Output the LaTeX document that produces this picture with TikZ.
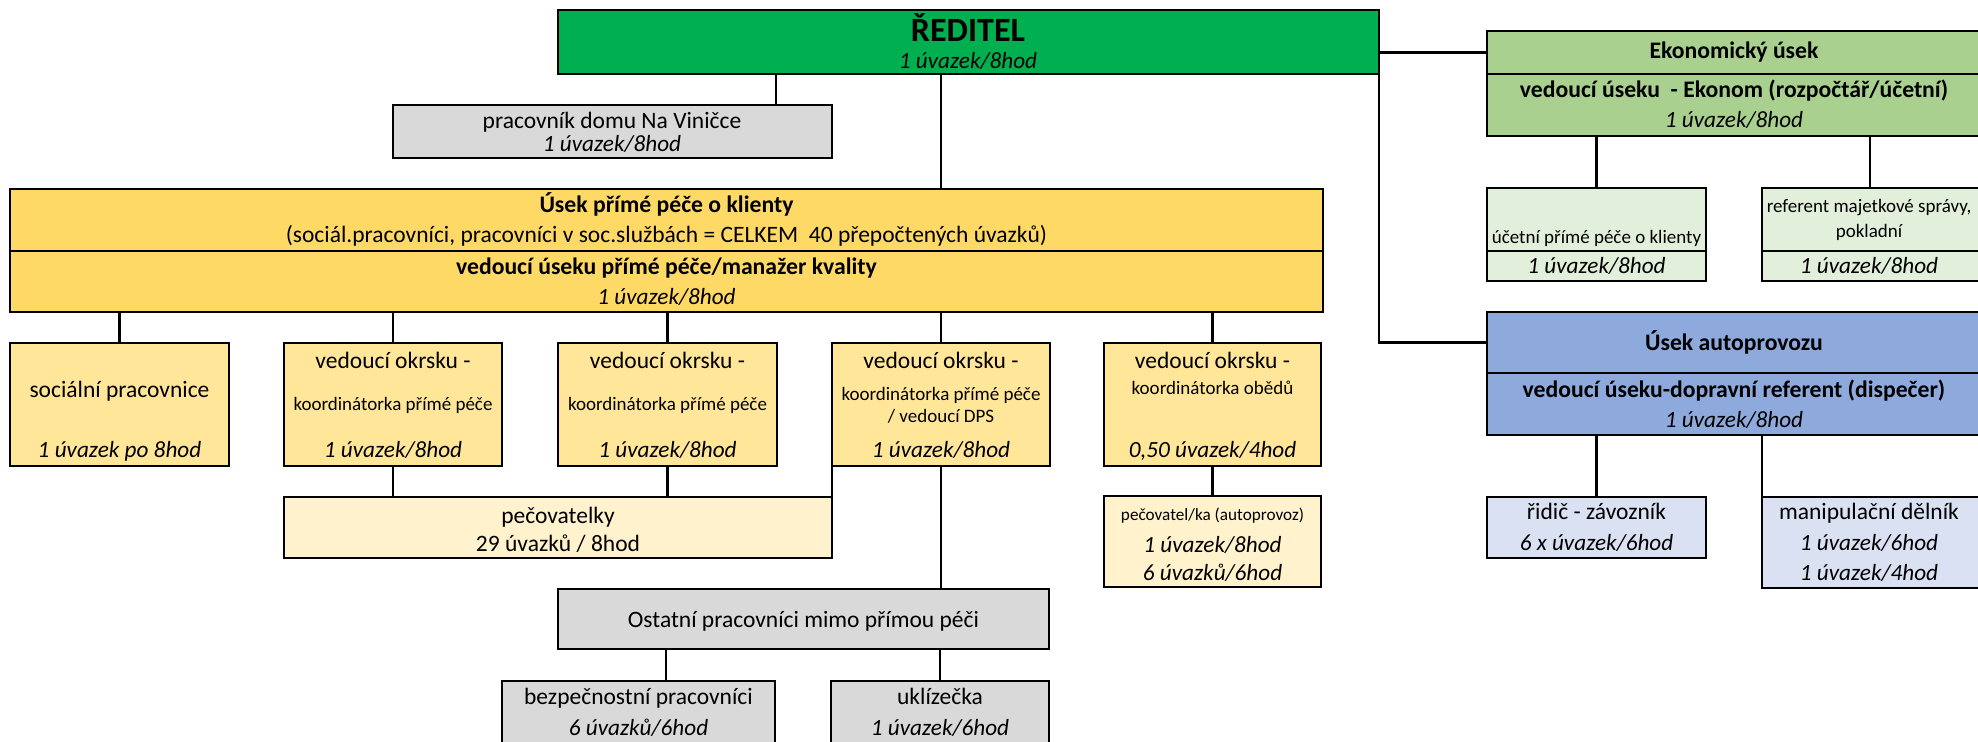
\documentclass[tikz,border=0pt]{standalone}
\usepackage{fontspec}
\setmainfont{Carlito}
\usetikzlibrary{fit}
\definecolor{cGreen}{HTML}{00B050}
\definecolor{cGray}{HTML}{D9D9D9}
\definecolor{cYel}{HTML}{FFD966}
\definecolor{cYelL}{HTML}{FFE699}
\definecolor{cYelP}{HTML}{FFF2CC}
\definecolor{cEk}{HTML}{A9D08E}
\definecolor{cEkL}{HTML}{E2EFDA}
\definecolor{cAp}{HTML}{8EA9DB}
\definecolor{cApL}{HTML}{D9E1F2}
\tikzset{
  box/.style={draw, line width=1.25pt, inner sep=0pt, outer sep=0pt},
  ln/.style={line width=1.1pt},
  tx/.style={anchor=base, inner sep=0pt, font=\fontsize{11.75}{13}\selectfont},
  tb/.style={tx, font=\fontsize{11.85}{13}\selectfont\bfseries},
  tR/.style={tx, font=\fontsize{17}{19}\selectfont\bfseries},
  ti/.style={tx, font=\fontsize{11.6}{13}\selectfont\itshape},
  ts/.style={tx, font=\fontsize{9.5}{11}\selectfont},
  tss/.style={tx, font=\fontsize{9.5}{11}\selectfont},
  tsss/.style={tx, font=\fontsize{8.6}{10}\selectfont},
}
\newcommand{\bx}[6]{\node[box,fill=#2,fit={(#3,#4)(#5,#6)}] (#1) {};}
\newcommand{\tl}[5]{\node[#2] (#1) at (#3,#4) {#5};}
\begin{document}
\begin{tikzpicture}[x=0.5pt,y=-0.5pt]
\clip (0,0) rectangle (1978,741);
\fill[white] (0,0) rectangle (1978,741);
% boxes
\bx{red}{cGreen}{558}{10}{1379}{74}
\bx{prac}{cGray}{393}{105}{832}{158}
\bx{usekA}{cYel}{10}{189}{1323}{251}
\bx{usekB}{cYel}{10}{251}{1323}{312}
\bx{soc}{cYelL}{10}{343}{229}{466}
\bx{ok1}{cYelL}{284}{343}{502}{466}
\bx{ok2}{cYelL}{558}{343}{777}{466}
\bx{dps}{cYelL}{832}{343}{1050}{466}
\bx{obed}{cYelL}{1104}{343}{1321}{466}
\bx{pec}{cYelP}{284}{497}{832}{558}
\bx{pecA}{cYelP}{1104}{496}{1321}{587}
\bx{ost}{cGray}{558}{589}{1049}{649}
\bx{bez}{cGray}{502}{681}{775}{760}
\bx{ukl}{cGray}{831}{681}{1049}{760}
\bx{ekA}{cEk}{1487}{31}{1990}{74}
\bx{ekB}{cEk}{1487}{74}{1990}{136}
\bx{ucA}{cEkL}{1487}{188}{1706}{251}
\bx{ucB}{cEkL}{1487}{251}{1706}{281}
\bx{refA}{cEkL}{1762}{188}{1990}{251}
\bx{refB}{cEkL}{1762}{251}{1990}{281}
\bx{apA}{cAp}{1487}{312}{1990}{373}
\bx{apB}{cAp}{1487}{373}{1990}{435}
\bx{rid}{cApL}{1487}{497}{1706}{558}
\bx{man}{cApL}{1762}{497}{1990}{588}
% connector end points
\coordinate (c1) at (776,105);
\coordinate (c2) at (941,189);
\coordinate (c3) at (666,681);
\coordinate (c4) at (1870,188);
% connectors
\draw[ln] (c1 |- red.south) -- (c1);
\draw[ln] (c2 |- red.south) -- (c2);
\draw[ln] (red.east |- ekA.west) -- (ekA.west);
\draw[ln] (red.south east) -- (red.south east |- apA.west) -- (apA.west);
\foreach \n in {soc,ok1,ok2,dps,obed}{\draw[ln] (\n.north |- usekB.south) -- (\n.north);}
\draw[ln] (ok1.south) -- (ok1.south |- pec.north);
\draw[ln] (ok2.south) -- (ok2.south |- pec.north);
\draw[ln] (dps.south west) -- (pec.north east);
\draw[ln] (dps.south) -- (dps.south |- ost.north);
\draw[ln] (obed.south) -- (pecA.north);
\draw[ln] (c3 |- ost.south) -- (c3);
\draw[ln] (ukl.north |- ost.south) -- (ukl.north);
\draw[ln] (ucA.north |- ekB.south) -- (ucA.north);
\draw[ln] (c4 |- ekB.south) -- (c4);
\draw[ln] (rid.north |- apB.south) -- (rid.north);
\draw[ln] (man.north west |- apB.south) -- (man.north west);
% texts
\tl{t1}{tR}{968}{41}{ŘEDITEL}
\tl{t2}{ti}{968}{68}{1 úvazek/8hod}
\tl{t3}{tx}{612}{128}{pracovník domu Na Viničce}
\tl{t4}{ti}{612}{151}{1 úvazek/8hod}
\tl{t5}{tb}{666.5}{212}{Úsek přímé péče o klienty}
\tl{t6}{tx}{666.5}{242}{(sociál.pracovníci, pracovníci v soc.službách = CELKEM\ \ 40 přepočtených úvazků)}
\tl{t7}{tb}{666.5}{274}{vedoucí úseku přímé péče/manažer kvality}
\tl{t8}{ti}{666.5}{304}{1 úvazek/8hod}
\tl{t9}{tx}{119.5}{397}{sociální pracovnice}
\tl{t10}{ti}{119.5}{457}{1 úvazek po 8hod}
\tl{t11}{tx}{393}{368}{vedoucí okrsku -}
\tl{t12}{ts}{393}{410}{koordinátorka přímé péče}
\tl{t13}{ti}{393}{457}{1 úvazek/8hod}
\tl{t14}{tx}{667.5}{368}{vedoucí okrsku -}
\tl{t15}{ts}{667.5}{410}{koordinátorka přímé péče}
\tl{t16}{ti}{667.5}{457}{1 úvazek/8hod}
\tl{t17}{tx}{941}{368}{vedoucí okrsku -}
\tl{t18}{ts}{941}{400}{koordinátorka přímé péče}
\tl{t19}{ts}{941}{422}{/ vedoucí DPS}
\tl{t20}{ti}{941}{457}{1 úvazek/8hod}
\tl{t21}{tx}{1212.5}{368}{vedoucí okrsku -}
\tl{t22}{ts}{1212.5}{394}{koordinátorka obědů}
\tl{t23}{ti}{1212.5}{457}{0,50 úvazek/4hod}
\tl{t24}{tx}{558}{523}{pečovatelky}
\tl{t25}{tx}{558}{551}{29 úvazků / 8hod}
\tl{t26}{tsss}{1212.5}{520}{pečovatel/ka (autoprovoz)}
\tl{t27}{ti}{1212.5}{552}{1 úvazek/8hod}
\tl{t28}{ti}{1212.5}{580}{6 úvazků/6hod}
\tl{t29}{tx}{803.5}{627}{Ostatní pracovníci mimo přímou péči}
\tl{t30}{tx}{638.5}{704}{bezpečnostní pracovníci}
\tl{t31}{ti}{638.5}{735}{6 úvazků/6hod}
\tl{t32}{tx}{940}{704}{uklízečka}
\tl{t33}{ti}{940}{735}{1 úvazek/6hod}
\tl{t34}{tb}{1734}{58}{Ekonomický úsek}
\tl{t35}{tb}{1734}{97}{vedoucí úseku\ \ - Ekonom (rozpočtář/účetní)}
\tl{t36}{ti}{1734}{127}{1 úvazek/8hod}
\tl{t37}{tss}{1596.5}{243}{účetní přímé péče o klienty}
\tl{t38}{ti}{1596.5}{273}{1 úvazek/8hod}
\tl{t39}{tss}{1869}{212}{referent majetkové správy,}
\tl{t40}{tss}{1869}{237}{pokladní}
\tl{t41}{ti}{1869}{273}{1 úvazek/8hod}
\tl{t42}{tb}{1734}{350}{Úsek autoprovozu}
\tl{t43}{tb}{1734}{397}{vedoucí úseku-dopravní referent (dispečer)}
\tl{t44}{ti}{1734}{427}{1 úvazek/8hod}
\tl{t45}{tx}{1596.5}{519}{řidič - závozník}
\tl{t46}{ti}{1596.5}{550}{6 x úvazek/6hod}
\tl{t47}{tx}{1869}{519}{manipulační dělník}
\tl{t48}{ti}{1869}{550}{1 úvazek/6hod}
\tl{t49}{ti}{1869}{580}{1 úvazek/4hod}
\end{tikzpicture}
\end{document}
